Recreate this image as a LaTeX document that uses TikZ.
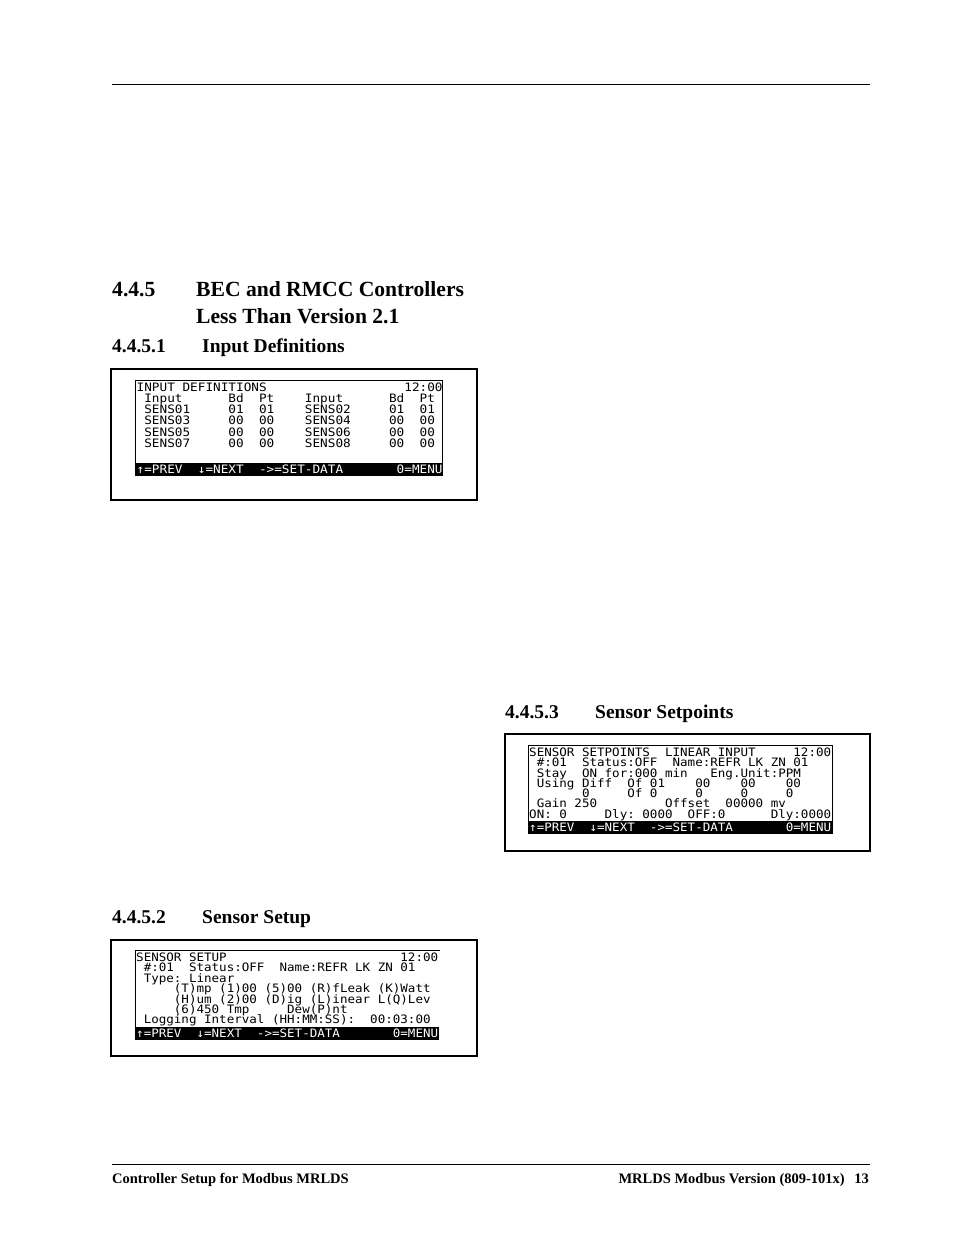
\documentclass[tikz,border=0pt]{standalone}
\usepackage{fontspec}
\setmainfont{Liberation Serif}
\newfontfamily\lcdfA[FakeStretch=1.095]{DejaVu Sans Mono}
\newfontfamily\lcdfB[FakeStretch=1.081]{DejaVu Sans Mono}
\begin{document}
\begin{tikzpicture}[x=1pt,y=-1pt,
  rulebar/.style={line width=1pt},
  outerbox/.style={draw, line width=2pt},
  lcdframe/.style={line width=0.8pt},
  lcdbar/.style={fill=black},
  hnum/.style={anchor=base west, inner sep=0, font=\fontsize{21.6}{24}\selectfont\bfseries},
  snum/.style={anchor=base west, inner sep=0, font=\fontsize{19.5}{22}\selectfont\bfseries},
  foot/.style={inner sep=0, font=\fontsize{14.5}{16}\selectfont\bfseries},
  lcdA/.style={anchor=base west, inner sep=0, font=\fontsize{11.6}{12}\lcdfA},
  lcdB/.style={anchor=base west, inner sep=0, font=\fontsize{11.6}{12}\lcdfB},
  barA/.style={lcdA, text=white},
  barB/.style={lcdB, text=white}]
\useasboundingbox (0,0) rectangle (954,1235);
\fill[white] (0,0) rectangle (954,1235);

% page rules
\draw[rulebar] (112,84.5) -- (870,84.5);
\draw[rulebar] (112,1164.5) -- (870,1164.5);

% headings
\node[hnum] (h1n) at (112,296.5) {4.4.5};
\node[hnum] (h1a) at (196,296.5) {BEC and RMCC Controllers};
\node[hnum] (h1b) at (196,323.5) {Less Than Version 2.1};
\node[snum] (h2n) at (112,352.5) {4.4.5.1};
\node[snum] (h2t) at (202,352.5) {Input Definitions};
\node[snum] (h3n) at (505,718.5) {4.4.5.3};
\node[snum] (h3t) at (595,718.5) {Sensor Setpoints};
\node[snum] (h4n) at (112,923.5) {4.4.5.2};
\node[snum] (h4t) at (202,923.5) {Sensor Setup};

% footer
\node[foot, anchor=base west] (fl) at (112,1183) {Controller Setup for Modbus MRLDS};
\node[foot, anchor=base east] (fr) at (845,1183) {MRLDS Modbus Version (809-101x)};
\node[foot, anchor=base east] (fp) at (869,1183) {13};

% ---------- screen 1: input definitions ----------
\draw[outerbox] (111,369) rectangle (477,500);
\draw[lcdframe] (135,469) -- (135,380.5) -- (442.5,380.5) -- (442.5,469);
\fill[lcdbar] (134.5,462.5) rectangle (442.8,475.5);
\node[lcdA] (a0) at (136.5,391.3) {INPUT~DEFINITIONS~~~~~~~~~~~~~~~~~~12:00};
\node[lcdA] (a1) at (136.5,402.5) {~Input~~~~~~Bd~~Pt~~~~Input~~~~~~Bd~~Pt};
\node[lcdA] (a2) at (136.5,413.7) {~SENS01~~~~~01~~01~~~~SENS02~~~~~01~~01};
\node[lcdA] (a3) at (136.5,424.9) {~SENS03~~~~~00~~00~~~~SENS04~~~~~00~~00};
\node[lcdA] (a4) at (136.5,436.1) {~SENS05~~~~~00~~00~~~~SENS06~~~~~00~~00};
\node[lcdA] (a5) at (136.5,447.3) {~SENS07~~~~~00~~00~~~~SENS08~~~~~00~~00};
\node[barA] (ab) at (136.5,473.2) {↑=PREV~~↓=NEXT~~->=SET-DATA~~~~~~~0=MENU};

% ---------- screen 2: sensor setpoints ----------
\draw[outerbox] (505,734) rectangle (870,851);
\draw[lcdframe] (528,827) -- (528,745) -- (832.5,745) -- (832.5,827);
\fill[lcdbar] (528,820.5) rectangle (832.8,833.5);
\node[lcdB] (b0) at (529,756.4) {SENSOR~SETPOINTS~~LINEAR~INPUT~~~~~12:00};
\node[lcdB] (b1) at (529,766.7) {~\#:01~~Status:OFF~~Name:REFR~LK~ZN~01};
\node[lcdB] (b2) at (529,777.0) {~Stay~~ON~for:000~min~~~Eng.Unit:PPM};
\node[lcdB] (b3) at (529,787.3) {~Using~Diff~~Of~01~~~~00~~~~00~~~~00};
\node[lcdB] (b4) at (529,797.6) {~~~~~~~0~~~~~Of~0~~~~~0~~~~~0~~~~~0};
\node[lcdB] (b5) at (529,807.9) {~Gain~250~~~~~~~~~Offset~~00000~mv};
\node[lcdB] (b6) at (529,818.2) {ON:~0~~~~~Dly:~0000~~OFF:0~~~~~~Dly:0000};
\node[barB] (bb) at (529,831.2) {↑=PREV~~↓=NEXT~~->=SET-DATA~~~~~~~0=MENU};

% ---------- screen 3: sensor setup ----------
\draw[outerbox] (111,940) rectangle (477,1056);
\draw[lcdframe] (135,1033) -- (135,950.5) -- (440,950.5);
\fill[lcdbar] (134.5,1026.5) rectangle (438.5,1039.5);
\node[lcdB] (c0) at (136,961.4) {SENSOR~SETUP~~~~~~~~~~~~~~~~~~~~~~~12:00};
\node[lcdB] (c1) at (136,971.8) {~\#:01~~Status:OFF~~Name:REFR~LK~ZN~01};
\node[lcdB] (c2) at (136,982.2) {~Type:~Linear};
\node[lcdB] (c3) at (136,992.6) {~~~~~(T)mp~(1)00~(5)00~(R)fLeak~(K)Watt};
\node[lcdB] (c4) at (136,1003.0) {~~~~~(H)um~(2)00~(D)ig~(L)inear~L(Q)Lev};
\node[lcdB] (c5) at (136,1013.4) {~~~~~(6)450~Tmp~~~~~Dew(P)nt};
\node[lcdB] (c6) at (136,1023.8) {~Logging~Interval~(HH:MM:SS):~~00:03:00};
\node[barB] (cb) at (136,1037.2) {↑=PREV~~↓=NEXT~~->=SET-DATA~~~~~~~0=MENU};
\end{tikzpicture}
\end{document}
